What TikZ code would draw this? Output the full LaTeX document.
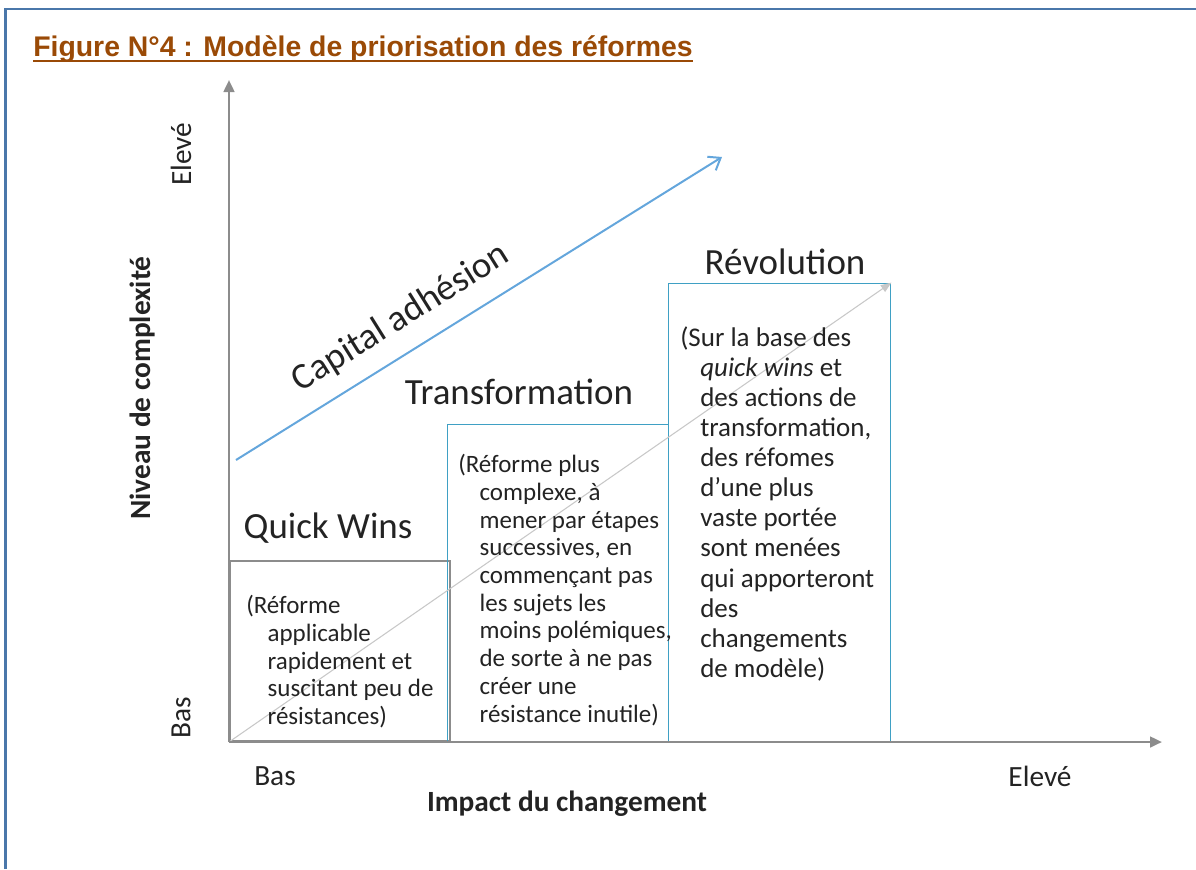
\documentclass[tikz,border=0pt]{standalone}
\usepackage{fontspec}
\setmainfont{Carlito}
\newfontfamily\titlefont{Liberation Sans}
\usetikzlibrary{arrows.meta,positioning}
\definecolor{framecol}{HTML}{4A77AA}
\definecolor{titlecol}{HTML}{9A4A06}
\definecolor{axiscol}{HTML}{8C8C8C}
\definecolor{diagcol}{HTML}{C8C8C8}
\definecolor{boxblue}{HTML}{3FA0C4}
\definecolor{adhblue}{HTML}{64A6DC}
\definecolor{inkcol}{HTML}{232323}
\tikzset{>=Latex}

\begin{document}
\begin{tikzpicture}[x=0.75pt,y=-0.75pt,
  axis/.style={draw=axiscol, line width=1.9pt, -{Triangle[length=9pt,width=8pt]}},
  stage/.style={draw=boxblue, line width=1.1pt, inner sep=0pt, anchor=south west},
  stagetitle/.style={text=inkcol, font=\fontsize{27.7}{30}\selectfont},
  stagetext/.style={text=inkcol, align=left, inner sep=0pt, anchor=north west,
    font=\fontsize{18.75}{20.8}\selectfont},
  axislabel/.style={text=inkcol, font=\fontsize{22}{24}\selectfont},
  axistitle/.style={text=inkcol, font=\bfseries\fontsize{22}{24}\selectfont}]

  \useasboundingbox (0,0) rectangle (1196,869);

  % frame and title
  \draw[framecol, line width=2.2pt] (5.5,869) -- (5.5,9) -- (1196,9);
  \node[anchor=base west, inner sep=0pt, text=titlecol,
    font=\titlefont\bfseries\fontsize{21.3}{24}\selectfont] (title) at (33,56)
    {Figure N°4 : Modèle de priorisation des réformes};
  \draw[titlecol, line width=1.5pt] ([yshift=-3.5pt]title.base west) -- ([yshift=-3.5pt]title.base east);

  % axes
  \coordinate (o) at (229,742);
  \coordinate (ytop) at (229,80);
  \coordinate (xend) at (1162,742);

  % boxes
  \node[stage, draw=axiscol, line width=1.4pt, minimum width=165pt, minimum height=135pt] (qwbox) at (o) {};
  \node[stage, minimum width=165.75pt, minimum height=237.75pt] (trbox) at (447,742) {};
  \node[stage, minimum width=166.5pt, minimum height=343.5pt] (revbox) at (668,742) {};

  \draw[diagcol, line width=0.8pt, -{Triangle[length=8pt,width=6pt]}] (o) -- (revbox.north east);
  \draw[axis] (o) -- (ytop);
  \draw[axis] (o) -- (xend);

  % capital adhesion
  \coordinate (adh0) at (236,460);
  \coordinate (adh1) at (722,157);
  \draw[adhblue, line width=1.5pt, -{Straight Barb[length=8pt,width=12pt]}] (adh0) -- (adh1);
  \node[stagetitle, rotate=32, inner sep=0pt] (adh) at (401,318) {Capital adhésion};

  % stage titles
  \node[stagetitle] (qw) at (328,528) {Quick Wins};
  \node[stagetitle] (tr) at (519,392) {Transformation};
  \node[stagetitle] (rev) at (785,262) {Révolution};

  % stage texts
  \node[stagetext] (qwtext) at (246,595) {(Réforme\\
    \hspace*{16pt}applicable\\
    \hspace*{16pt}rapidement et\\
    \hspace*{16pt}suscitant peu de\\
    \hspace*{16pt}résistances)};
  \node[stagetext] (trtext) at (458,454) {(Réforme plus\\
    \hspace*{16pt}complexe, à\\
    \hspace*{16pt}mener par étapes\\
    \hspace*{16pt}successives, en\\
    \hspace*{16pt}commençant pas\\
    \hspace*{16pt}les sujets les\\
    \hspace*{16pt}moins polémiques,\\
    \hspace*{16pt}de sorte à ne pas\\
    \hspace*{16pt}créer une\\
    \hspace*{16pt}résistance inutile)};
  \node[stagetext, font=\fontsize{20.25}{22.6}\selectfont] (revtext) at (680,326) {(Sur la base des\\
    \hspace*{15pt}\textit{quick wins} et\\
    \hspace*{15pt}des actions de\\
    \hspace*{15pt}transformation,\\
    \hspace*{15pt}des réfomes\\
    \hspace*{15pt}d’une plus\\
    \hspace*{15pt}vaste portée\\
    \hspace*{15pt}sont menées\\
    \hspace*{15pt}qui apporteront\\
    \hspace*{15pt}des\\
    \hspace*{15pt}changements\\
    \hspace*{15pt}de modèle)};

  % axis labels
  \node[axislabel, rotate=90] (yhigh) at (181,154) {Elevé};
  \node[axistitle, rotate=90] (ytitle) at (143,388) {Niveau de complexité};
  \node[axislabel, rotate=90] (ylow) at (181,718) {Bas};
  \node[axislabel] (xlow) at (275,776) {Bas};
  \node[axislabel] (xhigh) at (1040,776) {Elevé};
  \node[axistitle] (xtitle) at (567,804) {Impact du changement};

\end{tikzpicture}
\end{document}
